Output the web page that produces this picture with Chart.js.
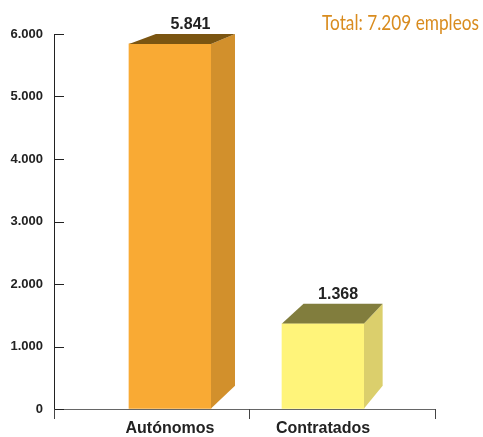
<!DOCTYPE html>
<html>
<head>
<meta charset="utf-8">
<script src="https://cdn.jsdelivr.net/npm/chart.js@4/dist/chart.umd.min.js"></script>
<style>
  html, body { margin: 0; padding: 0; background: #fff; }
</style>
</head>
<body>
<canvas id="barChart" width="483" height="437"></canvas>
<script>
const categories = ['Autónomos', 'Contratados'];
const empleos = [5841, 1368];
const yTicks = [0, 1000, 2000, 3000, 4000, 5000, 6000];
const xBounds = [0.242, 1.516, 2.732];
const totalLabel = 'Total: 7.209 empleos';

const frontColors = ['#F9AA34', '#FFF47A'];
const sideColors = ['#D2902C', '#DBCF6C'];
const topColors = ['#7B5511', '#817D3D'];

// miles con punto
const fmt = n => String(n).replace(/\B(?=(\d{3})+(?!\d))/g, '.');

// 3d: caras traseras hacia un punto de fuga
const vp = { x: 897, y: -240 };
const depth = 0.965;
const back = (x, y) => [vp.x + depth * (x - vp.x), vp.y + depth * (y - vp.y)];

function poly(c, pts, color) {
    c.beginPath();
    c.moveTo(pts[0][0], pts[0][1]);
    for (let i = 1; i < pts.length; i++) c.lineTo(pts[i][0], pts[i][1]);
    c.closePath();
    c.fillStyle = color;
    c.fill();
}

const bars3d = {
    id: 'bars3d',
    afterDatasetsDraw(chart) {
        const c = chart.ctx;
        const meta = chart.getDatasetMeta(0);
        c.save();
        meta.data.forEach((bar, i) => {
            const l = bar.x - bar.width / 2, r = bar.x + bar.width / 2;
            const t = bar.y, b = bar.base;
            const rt = back(r, t), rb = back(r, b), lt = back(l, t);
            poly(c, [[r, t], rt, rb, [r, b]], sideColors[i]);
            poly(c, [[l, t], [r, t], rt, lt], topColors[i]);

            c.fillStyle = '#222';
            c.font = 'bold 16px "Liberation Sans", Arial, sans-serif';
            c.textAlign = 'center';
            c.textBaseline = 'alphabetic';
            c.fillText(fmt(empleos[i]), (lt[0] + rt[0]) / 2 - 5, rt[1] - 5);
        });

        // marcas interiores del eje y
        const ys = chart.scales.y;
        c.strokeStyle = '#222';
        c.lineWidth = 1;
        yTicks.forEach(v => {
            const py = Math.round(ys.getPixelForValue(v)) + 0.5;
            c.beginPath();
            c.moveTo(ys.right, py);
            c.lineTo(ys.right + 10, py);
            c.stroke();
        });

        // marcas del eje x entre categorías
        const xs = chart.scales.x;
        c.strokeStyle = '#444';
        xBounds.forEach(v => {
            const px = Math.round(xs.getPixelForValue(v)) + 0.5;
            c.beginPath();
            c.moveTo(px, xs.top);
            c.lineTo(px, xs.top + 10);
            c.stroke();
        });

        c.fillStyle = '#D98C1F';
        c.font = '22px Lato, sans-serif';
        c.textAlign = 'right';
        c.fillText(totalLabel, 479, 30, 157);
        c.restore();
    }
};

new Chart(document.getElementById('barChart'), {
    type: 'bar',
    data: {
        datasets: [{
            data: empleos.map((v, i) => ({ x: i + 1, y: v })),
            backgroundColor: frontColors,
            borderWidth: 0,
            barThickness: 82
        }]
    },
    options: {
        responsive: false,
        animation: false,
        layout: { padding: { top: 34, right: 48, left: 0, bottom: 0 } },
        plugins: {
            legend: { display: false },
            tooltip: { enabled: false }
        },
        scales: {
            x: {
                type: 'linear',
                min: xBounds[0],
                max: xBounds[2],
                offset: false,
                z: 1,
                afterBuildTicks: s => { s.ticks = [1, 2].map(v => ({ value: v })); },
                afterFit: s => { s.height = 28; },
                grid: { display: false },
                border: { color: '#666' },
                ticks: {
                    autoSkip: false,
                    maxRotation: 0,
                    padding: 2,
                    color: '#222',
                    font: { family: '"Liberation Sans", Arial, sans-serif', size: 16, weight: 'bold' },
                    callback: v => categories[v - 1]
                }
            },
            y: {
                min: 0,
                max: 6000,
                afterBuildTicks: s => { s.ticks = yTicks.map(v => ({ value: v })); },
                afterFit: s => { s.width = 54; },
                grid: { drawOnChartArea: false, drawTicks: false },
                border: { color: '#222' },
                ticks: {
                    padding: 11,
                    color: '#222',
                    font: { family: '"Liberation Sans", Arial, sans-serif', size: 13, weight: 'bold' },
                    callback: v => fmt(v)
                }
            }
        }
    },
    plugins: [bars3d]
});
</script>
</body>
</html>
